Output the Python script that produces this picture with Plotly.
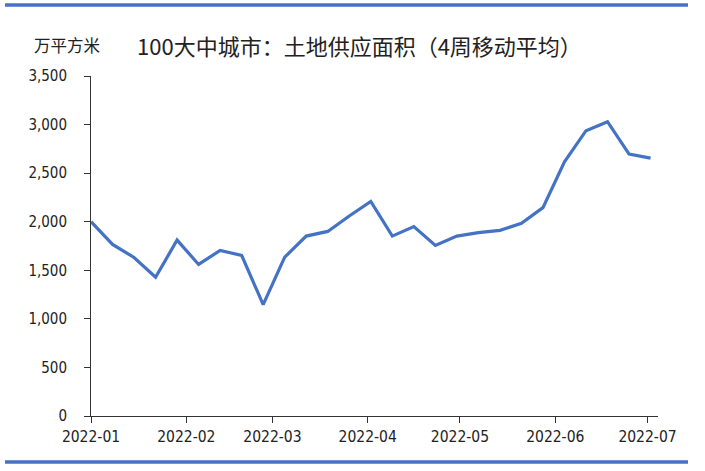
import pandas as pd
import plotly.graph_objects as go

dates = pd.date_range("2022-01-01", periods=27, freq="7D")
values = [2000, 1766, 1632, 1428, 1811, 1560, 1705, 1653, 1147, 1635,
          1852, 1900, 2059, 2208, 1852, 1950, 1756, 1852, 1887, 1911,
          1983, 2145, 2617, 2937, 3030, 2696, 2655]
tick_vals = ["2022-01-01", "2022-02-01", "2022-03-01", "2022-04-01",
             "2022-05-01", "2022-06-01", "2022-07-01"]
tick_text = ["2022-01", "2022-02", "2022-03", "2022-04", "2022-05", "2022-06", "2022-07"]
title = "100大中城市：土地供应面积（4周移动平均）"
unit = "万平方米"

W, H = 705, 471
L, R, T, B = 91, 47, 76, 55
PW, PH = W - L - R, H - T - B
font_fam = "Liberation Sans Narrow, DejaVu Sans Condensed, Arial Narrow, sans-serif"


def px(x):
    return (x - L) / PW


def py(y):
    return (H - B - y) / PH


fig = go.Figure()
fig.add_trace(go.Scatter(x=dates, y=values, mode="lines",
                         line=dict(color="#4472C4", width=3.2), hoverinfo="skip"))

fig.update_layout(
    width=W, height=H,
    margin=dict(l=L, r=R, t=T, b=B),
    paper_bgcolor="white", plot_bgcolor="white",
    showlegend=False,
    font=dict(family=font_fam, size=15, color="#222"),
    xaxis=dict(type="date", range=["2022-01-01", "2022-07-04 10:00"],
               tickvals=tick_vals, ticktext=tick_text,
               showgrid=False, zeroline=False, showline=True,
               linecolor="#333", linewidth=1, ticks="outside",
               ticklen=6, tickcolor="#333", tickfont=dict(size=15.5)),
    yaxis=dict(range=[0, 3500], dtick=500, tickformat=",",
               showgrid=False, zeroline=False, showline=True,
               linecolor="#333", linewidth=1, ticks="outside",
               ticklen=6, tickcolor="#333", tickfont=dict(size=15),
               ticklabelstandoff=14),
    shapes=[
        dict(type="line", xref="paper", yref="paper",
             x0=px(5), x1=px(688), y0=py(5), y1=py(5),
             line=dict(color="#4472C4", width=3.5)),
        dict(type="line", xref="paper", yref="paper",
             x0=px(5), x1=px(688), y0=py(462), y1=py(462),
             line=dict(color="#4472C4", width=3.5)),
    ],
    annotations=[
        dict(text=unit, xref="paper", yref="paper",
             x=px(32), y=py(45),
             xanchor="left", yanchor="middle", showarrow=False,
             font=dict(family="Noto Sans CJK SC", size=16.5, color="#222")),
        dict(text=title, xref="paper", yref="paper",
             x=px(135), y=py(44.5),
             xanchor="left", yanchor="middle", showarrow=False,
             font=dict(family="Noto Sans CJK SC", size=22, color="#222")),
    ],
)

fig.write_html("out.html", config={"displayModeBar": False},
               post_script="document.body.style.margin='0';")
